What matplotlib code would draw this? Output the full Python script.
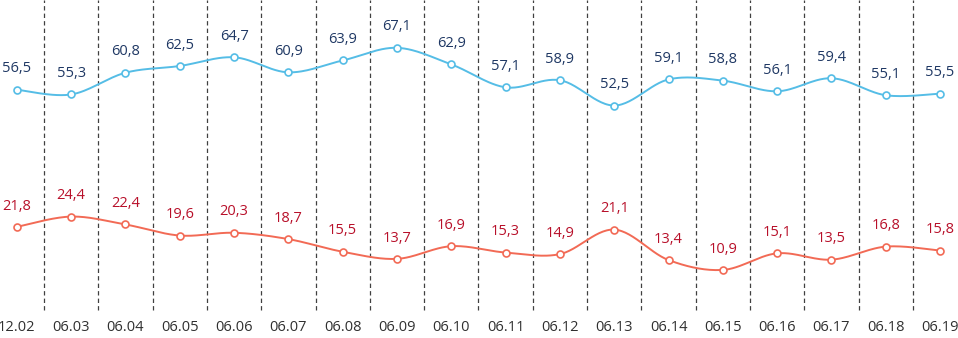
import numpy as np
import matplotlib
matplotlib.use("Agg")
import matplotlib.pyplot as plt

categories = ["12.02", "06.03", "06.04", "06.05", "06.06", "06.07", "06.08", "06.09",
              "06.10", "06.11", "06.12", "06.13", "06.14", "06.15", "06.16", "06.17",
              "06.18", "06.19"]
blue_values = [56.5, 55.3, 60.8, 62.5, 64.7, 60.9, 63.9, 67.1, 62.9, 57.1, 58.9, 52.5,
               59.1, 58.8, 56.1, 59.4, 55.1, 55.5]
red_values = [21.8, 24.4, 22.4, 19.6, 20.3, 18.7, 15.5, 13.7, 16.9, 15.3, 14.9, 21.1,
              13.4, 10.9, 15.1, 13.5, 16.8, 15.8]

BLUE_LINE = "#55bde6"
BLUE_TEXT = "#1f3864"
RED_LINE = "#f26a55"
RED_TEXT = "#b8102a"

plt.rcParams['font.family'] = ['Open Sans', 'DejaVu Sans']


def smooth(xs, ys, n=30):
    xs = np.asarray(xs, float)
    ys = np.asarray(ys, float)
    px, py = [], []
    for i in range(len(xs) - 1):
        x0, y0 = (xs[i - 1], ys[i - 1]) if i > 0 else (xs[i], ys[i])
        x1, y1 = xs[i], ys[i]
        x2, y2 = xs[i + 1], ys[i + 1]
        x3, y3 = (xs[i + 2], ys[i + 2]) if i + 2 < len(xs) else (xs[i + 1], ys[i + 1])
        c1x, c1y = x1 + (x2 - x0) / 6, y1 + (y2 - y0) / 6
        c2x, c2y = x2 - (x3 - x1) / 6, y2 - (y3 - y1) / 6
        t = np.linspace(0, 1, n)
        bx = (1 - t) ** 3 * x1 + 3 * (1 - t) ** 2 * t * c1x + 3 * (1 - t) * t ** 2 * c2x + t ** 3 * x2
        by = (1 - t) ** 3 * y1 + 3 * (1 - t) ** 2 * t * c1y + 3 * (1 - t) * t ** 2 * c2y + t ** 3 * y2
        px.extend(bx)
        py.extend(by)
    return np.array(px), np.array(py)


fig = plt.figure(figsize=(9.58, 3.38), dpi=100)
ax = fig.add_axes([0, 25 / 338, 1, 313 / 338])
x = np.arange(len(categories))

for k in range(len(categories) - 1):
    ax.axvline(k + 0.5, ymin=0.01, color="#404040", lw=0.9, ls=(0, (3.5, 2.5)), zorder=1)

for vals, lc, tc in [(blue_values, BLUE_LINE, BLUE_TEXT), (red_values, RED_LINE, RED_TEXT)]:
    sx, sy = smooth(x, vals)
    ax.plot(sx, sy, color=lc, lw=1.4, zorder=2)
    ax.plot(x, vals, ls="none", marker="o", ms=5, mfc="white", mec=lc, mew=1.2, zorder=3)
    for xi, v in zip(x, vals):
        ax.annotate(f"{v:.1f}".replace(".", ","), (xi, v), xytext=(0, 15),
                    textcoords="offset points", ha="center", va="center",
                    color=tc, fontsize=10.5)

ax.set_xlim(-0.31, 17.33)
ax.set_ylim(0, 79.2)
ax.set_xticks(x)
ax.set_xticklabels(categories, fontsize=10.5, color="#303030")
ax.tick_params(axis="x", length=0, pad=5)
ax.set_yticks([])
for s in ax.spines.values():
    s.set_visible(False)

fig.savefig("out.png", dpi=100)
